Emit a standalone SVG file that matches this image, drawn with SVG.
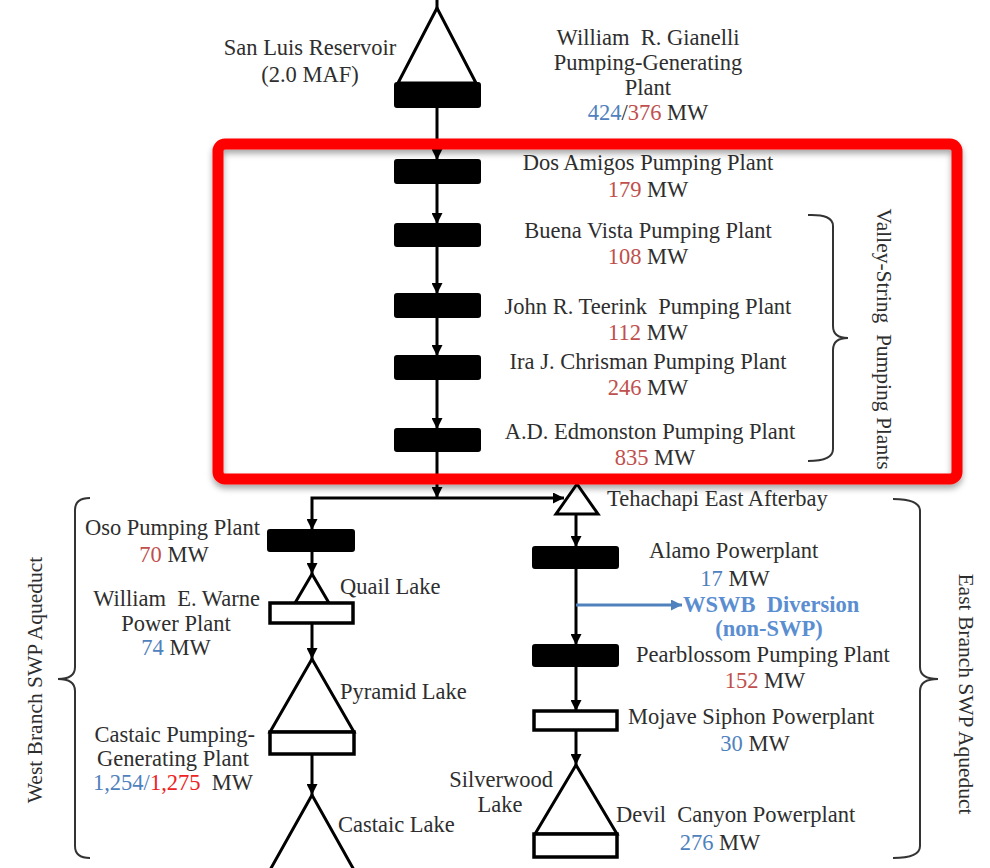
<svg xmlns="http://www.w3.org/2000/svg" width="990" height="868" viewBox="0 0 990 868">
<style>
text{font-family:"Liberation Serif","Times New Roman",serif;font-size:22.5px;fill:#2e2e2e;white-space:pre}
.rot{font-size:21.5px}
.m{text-anchor:middle}
.e{text-anchor:end}
.r{fill:#C0504D}
.b{fill:#4F81BD}
.rr{fill:#EE2222}
.wb{fill:#5B8ED0;font-weight:bold}
.blk{fill:#000;stroke:#000;stroke-width:2}
.wht{fill:#fff;stroke:#000;stroke-width:3.5}
.tri{fill:#fff;stroke:#000;stroke-width:3;stroke-linejoin:miter}
.ln{stroke:#000;stroke-width:3;fill:none}
.brace{stroke:#333;stroke-width:2;fill:none}
</style>
<defs>
<marker id="arr" viewBox="0 0 10 10" refX="10" refY="5" markerWidth="11" markerHeight="11" markerUnits="userSpaceOnUse" orient="auto"><path d="M0,0 L10,5 L0,10 z" fill="#000"/></marker>
<marker id="arrb" viewBox="0 0 10 10" refX="10" refY="5" markerWidth="11" markerHeight="11" markerUnits="userSpaceOnUse" orient="auto"><path d="M0,0 L10,5 L0,10 z" fill="#4F81BD"/></marker>
<filter id="sh" x="-5%" y="-5%" width="110%" height="115%"><feDropShadow dx="0" dy="4" stdDeviation="3" flood-color="#000" flood-opacity="0.35"/></filter>
</defs>
<rect width="990" height="868" fill="#fff"/>

<g id="connectors">
<line class="ln" x1="437" y1="0" x2="437" y2="10"/>
<line class="ln" x1="437" y1="107" x2="437" y2="160" marker-end="url(#arr)"/>
<line class="ln" x1="437" y1="183" x2="437" y2="224" marker-end="url(#arr)"/>
<line class="ln" x1="437" y1="246" x2="437" y2="294" marker-end="url(#arr)"/>
<line class="ln" x1="437" y1="317" x2="437" y2="356" marker-end="url(#arr)"/>
<line class="ln" x1="437" y1="379" x2="437" y2="429" marker-end="url(#arr)"/>
<line class="ln" x1="437" y1="451" x2="437" y2="498" marker-end="url(#arr)"/>
<path class="ln" d="M437,498 H312 V530" marker-end="url(#arr)"/>
<line class="ln" x1="437" y1="498" x2="564" y2="498" marker-end="url(#arr)"/>
<line class="ln" x1="312" y1="551" x2="312" y2="574" marker-end="url(#arr)"/>
<line class="ln" x1="312" y1="623" x2="312" y2="659" marker-end="url(#arr)"/>
<line class="ln" x1="312" y1="754" x2="312" y2="795" marker-end="url(#arr)"/>
<line class="ln" x1="576" y1="514" x2="576" y2="547" marker-end="url(#arr)"/>
<line class="ln" x1="576" y1="568" x2="576" y2="645" marker-end="url(#arr)"/>
<line class="ln" x1="576" y1="666" x2="576" y2="711" marker-end="url(#arr)"/>
<line class="ln" x1="576" y1="730" x2="576" y2="765" marker-end="url(#arr)"/>
<line x1="576" y1="605" x2="682" y2="605" stroke="#4F81BD" stroke-width="3" marker-end="url(#arrb)"/>
</g>

<g id="san-luis">
<polygon class="tri" points="437,8 398,83 476,83"/>
<rect class="blk" x="395" y="83" width="85" height="24" rx="2"/>
<text class="m" x="310" y="55">San Luis Reservoir</text>
<text class="m" x="310" y="82">(2.0 MAF)</text>
</g>
<g id="gianelli">
<text class="m" x="648" y="45">William  R. Gianelli</text>
<text class="m" x="648" y="70">Pumping-Generating</text>
<text class="m" x="648" y="95">Plant</text>
<text class="m" x="648" y="120"><tspan class="b">424</tspan>/<tspan class="r">376</tspan> MW</text>
</g>
<g id="dos-amigos">
<rect class="blk" x="395" y="160" width="85" height="23" rx="2"/>
<text class="m" x="648" y="170">Dos Amigos Pumping Plant</text>
<text class="m" x="648" y="197"><tspan class="r">179</tspan> MW</text>
</g>
<g id="buena-vista">
<rect class="blk" x="395" y="224" width="85" height="22" rx="2"/>
<text class="m" x="648" y="238">Buena Vista Pumping Plant</text>
<text class="m" x="648" y="264"><tspan class="r">108</tspan> MW</text>
</g>
<g id="teerink">
<rect class="blk" x="395" y="294" width="85" height="23" rx="2"/>
<text class="m" x="648" y="314">John R. Teerink  Pumping Plant</text>
<text class="m" x="648" y="340"><tspan class="r">112</tspan> MW</text>
</g>
<g id="chrisman">
<rect class="blk" x="395" y="356" width="85" height="23" rx="2"/>
<text class="m" x="648" y="369">Ira J. Chrisman Pumping Plant</text>
<text class="m" x="648" y="395"><tspan class="r">246</tspan> MW</text>
</g>
<g id="edmonston">
<rect class="blk" x="395" y="429" width="85" height="22" rx="2"/>
<text class="m" x="650" y="439">A.D. Edmonston Pumping Plant</text>
<text class="m" x="655" y="465"><tspan class="r">835</tspan> MW</text>
</g>
<g id="valley-string">
<path class="brace" d="M808,215 Q833,214 833,226 V326 Q833,338 848,338 Q833,338 833,350 V449 Q833,461 808,461"/>
<text class="m rot" transform="translate(877,339) rotate(90)">Valley-String  Pumping Plants</text>
</g>

<g id="oso">
<rect class="blk" x="268" y="530" width="86" height="21" rx="2"/>
<text class="e" x="260" y="535">Oso Pumping Plant</text>
<text class="m" x="174" y="562"><tspan class="r">70</tspan> MW</text>
</g>
<g id="quail-warne">
<polygon class="tri" points="312,574 295,603 329,603"/>
<rect class="wht" x="270" y="603" width="83" height="20"/>
<text x="340" y="594">Quail Lake</text>
<text class="e" x="260" y="606">William  E. Warne</text>
<text class="m" x="176" y="631">Power Plant</text>
<text class="m" x="176" y="655"><tspan class="b">74</tspan> MW</text>
</g>
<g id="pyramid-castaic">
<polygon class="tri" points="312,659 270,732 354,732"/>
<rect class="wht" x="270" y="732" width="84" height="22"/>
<text x="340" y="699">Pyramid Lake</text>
<text class="e" x="255" y="742">Castaic Pumping-</text>
<text class="m" x="173" y="766">Generating Plant</text>
<text class="m" x="173" y="790"><tspan class="b">1,254</tspan><tspan class="b">/</tspan><tspan class="rr">1,275</tspan>  MW</text>
</g>
<g id="castaic-lake">
<polygon class="tri" points="312,795 270,870 354,870"/>
<text x="338" y="832">Castaic Lake</text>
</g>
<g id="west-branch">
<path class="brace" d="M90,498 Q75,498 75,510 V667 Q75,679 58,679 Q75,679 75,691 V846 Q75,858 90,858"/>
<text class="m rot" transform="translate(42,680) rotate(-90)">West Branch SWP Aqueduct</text>
</g>

<g id="tehachapi">
<polygon class="tri" points="577,484 556,514 598,514"/>
<text x="607" y="506">Tehachapi East Afterbay</text>
</g>
<g id="alamo">
<rect class="blk" x="533" y="547" width="85" height="21" rx="2"/>
<text x="649" y="558">Alamo Powerplant</text>
<text class="m" x="735" y="586"><tspan class="b">17</tspan> MW</text>
</g>
<g id="wswb">
<text class="wb" x="683" y="612">WSWB  Diversion</text>
<text class="wb m" x="769" y="636">(non-SWP)</text>
</g>
<g id="pearblossom">
<rect class="blk" x="533" y="645" width="85" height="21" rx="2"/>
<text x="636" y="662">Pearblossom Pumping Plant</text>
<text class="m" x="765" y="688"><tspan class="r">152</tspan> MW</text>
</g>
<g id="mojave">
<rect class="wht" x="534" y="711" width="83" height="19"/>
<text x="628" y="724">Mojave Siphon Powerplant</text>
<text class="m" x="755" y="751"><tspan class="b">30</tspan> MW</text>
</g>
<g id="silverwood">
<polygon class="tri" points="576,765 535,834 617,834"/>
<rect class="wht" x="534" y="834" width="83" height="23"/>
<text class="e" x="553" y="787">Silverwood</text>
<text class="m" x="500" y="812">Lake</text>
<text x="616" y="822">Devil  Canyon Powerplant</text>
<text class="m" x="720" y="850"><tspan class="b">276</tspan> MW</text>
</g>
<g id="east-branch">
<path class="brace" d="M893,499 Q920,499 920,511 V667 Q920,679 938,679 Q920,679 920,691 V846 Q920,858 893,858"/>
<text class="m rot" transform="translate(959,694) rotate(90)">East Branch SWP Aqueduct</text>
</g>

<g id="highlight">
<rect x="218" y="144" width="739" height="335" rx="7" fill="none" stroke="#FF0000" stroke-width="11" filter="url(#sh)"/>
</g>
</svg>
